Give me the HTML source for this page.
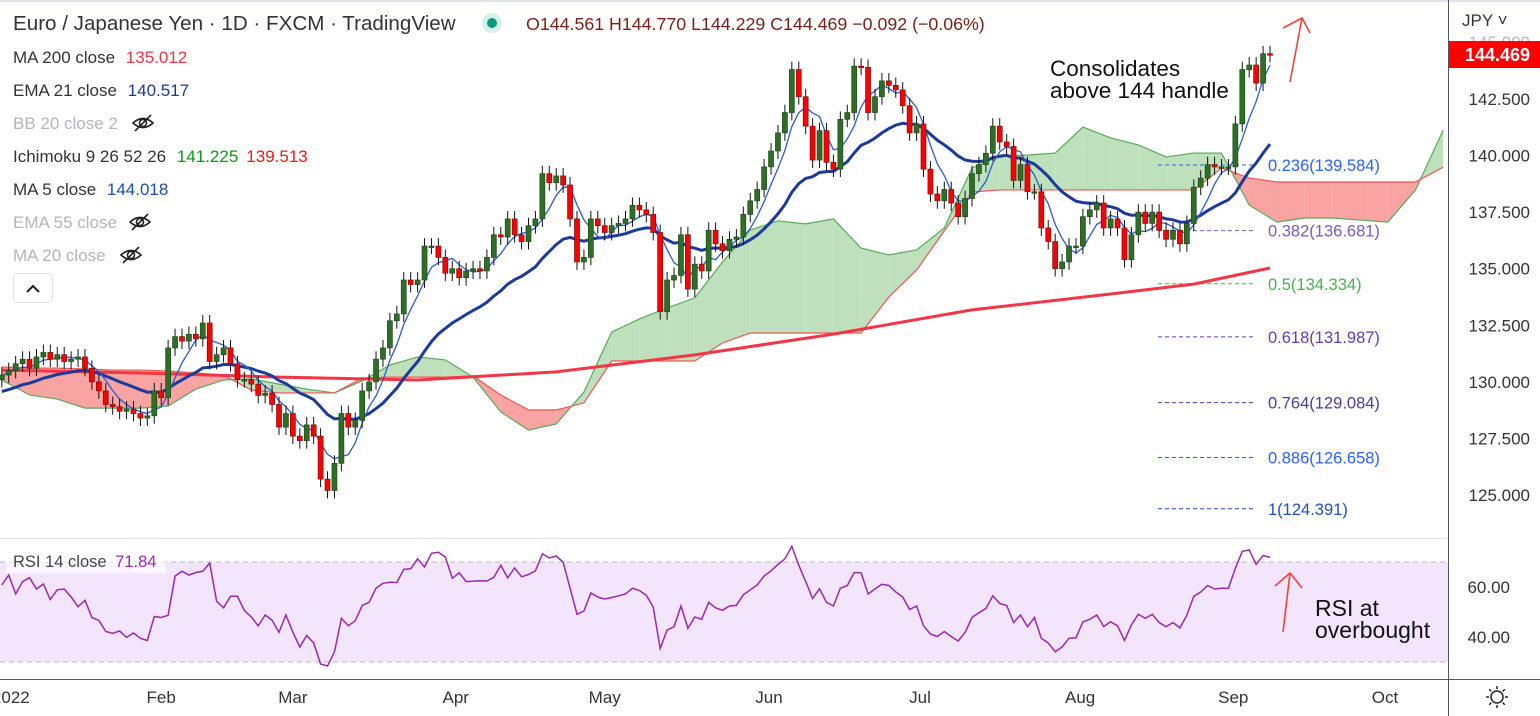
<!DOCTYPE html>
<html><head><meta charset="utf-8"><style>
html,body{margin:0;padding:0;background:#fff;overflow:hidden}
svg{display:block;font-family:"Liberation Sans",sans-serif}
</style></head><body>
<svg id="chart" width="1540" height="716" viewBox="0 0 1540 716" xmlns="http://www.w3.org/2000/svg">
<defs>
<clipPath id="mainClip"><rect x="0" y="0" width="1448" height="538"/></clipPath>
<clipPath id="rsiClip"><rect x="0" y="539" width="1448" height="140"/></clipPath>
</defs>
<rect x="0" y="0" width="1540" height="716" fill="#fff"/>
<line x1="0" y1="1" x2="1540" y2="1" stroke="#e0e3eb" stroke-width="2"/>
<g id="cloud" clip-path="url(#mainClip)"></g>
<g id="fib"></g>
<g id="lines" clip-path="url(#mainClip)"></g>
<g id="candles" clip-path="url(#mainClip)"></g>
<g id="rsi"></g>
<line x1="0" y1="538.5" x2="1448" y2="538.5" stroke="#e0e3eb" stroke-width="1"/>
<line x1="0" y1="679.5" x2="1540" y2="679.5" stroke="#555" stroke-width="1"/>
<line x1="1448.5" y1="0" x2="1448.5" y2="716" stroke="#555" stroke-width="1"/>
<g id="axes"></g>

<g font-size="17">
<text x="13" y="30" font-size="20.6" fill="#333">Euro / Japanese Yen · 1D · FXCM · TradingView</text>
<circle cx="492" cy="23" r="10" fill="#d6f0ea"/>
<circle cx="492" cy="23" r="5" fill="#089981"/>
<text x="526" y="30" font-size="17.8" fill="#7a1f17">O144.561 H144.770 L144.229 C144.469 −0.092 (−0.06%)</text>
<text x="13" y="63" fill="#333">MA 200 close <tspan fill="#f23645" dx="6">135.012</tspan></text>
<text x="13" y="96" fill="#333">EMA 21 close <tspan fill="#1c3a9a" dx="6">140.517</tspan></text>
<text x="13" y="129" fill="#b2b5be">BB 20 close 2</text>
<g transform="translate(143,123)" fill="none" stroke="#222" stroke-width="1.6"><path d="M-10 0 Q0 -9 10 0 Q0 9 -10 0Z"/><circle r="3.5"/><line x1="-8" y1="8" x2="8" y2="-8"/></g>
<text x="13" y="162" fill="#333">Ichimoku 9 26 52 26 <tspan fill="#089a12" dx="6">141.225</tspan><tspan fill="#f21818" dx="8">139.513</tspan></text>
<text x="13" y="195" fill="#333">MA 5 close <tspan fill="#1c4fb0" dx="6">144.018</tspan></text>
<text x="13" y="228" fill="#b2b5be">EMA 55 close</text>
<g transform="translate(140,222)" fill="none" stroke="#222" stroke-width="1.6"><path d="M-10 0 Q0 -9 10 0 Q0 9 -10 0Z"/><circle r="3.5"/><line x1="-8" y1="8" x2="8" y2="-8"/></g>
<text x="13" y="261" fill="#b2b5be">MA 20 close</text>
<g transform="translate(131,255)" fill="none" stroke="#222" stroke-width="1.6"><path d="M-10 0 Q0 -9 10 0 Q0 9 -10 0Z"/><circle r="3.5"/><line x1="-8" y1="8" x2="8" y2="-8"/></g>
<rect x="13.5" y="273.5" width="39" height="29" rx="4" fill="#fff" stroke="#e0e3eb"/>
<path d="M27 292 L33 286 L39 292" fill="none" stroke="#222" stroke-width="2"/>
</g>

<g>
<text x="1050" y="76" font-size="22.5" fill="#111">Consolidates</text>
<text x="1050" y="98" font-size="22.5" fill="#111">above 144 handle</text>
<path d="M1290 82 L1302 18 M1283 28 L1302 18 L1310 33" fill="none" stroke="#f44336" stroke-width="1.6"/>
<text x="1315" y="616" font-size="23" fill="#111">RSI at</text>
<text x="1315" y="638" font-size="23" fill="#111">overbought</text>
<path d="M1283 632 L1290 573 M1275 586 L1290 573 L1302 588" fill="none" stroke="#f44336" stroke-width="1.6"/>
</g>
</svg>
<script>
const closes=[130.3,130.5,130.8,131.0,130.6,131.1,131.3,131.0,131.2,130.9,131.0,131.1,130.6,130.0,129.6,129.0,128.9,128.7,128.8,128.6,128.4,128.5,129.6,129.3,131.5,132.0,131.8,132.1,131.9,132.6,130.9,131.2,131.5,130.8,130.1,130.1,129.9,129.4,129.5,129.0,128.0,128.6,127.6,127.4,128.1,127.6,125.7,125.2,126.4,128.6,128.0,128.3,129.6,130.0,131.0,131.5,132.7,133.0,134.5,134.3,134.5,136.0,136.0,135.5,134.8,135.0,134.6,134.9,135.0,134.9,135.5,136.5,136.4,137.2,136.5,136.2,136.9,137.2,139.2,138.8,139.1,138.7,
137.2,135.3,135.5,137.2,136.9,136.6,136.9,137.0,137.2,137.8,137.6,137.4,136.6,133.1,134.5,134.7,136.5,134.1,135.2,134.9,136.7,136.1,135.8,136.3,136.4,137.4,138.0,138.5,139.5,140.2,141.0,141.9,143.8,142.6,141.3,139.8,141.1,139.7,139.4,141.6,141.9,143.95,
143.9,141.9,142.6,143.3,143.1,142.9,142.2,141.0,141.4,139.4,138.3,138.0,138.5,137.9,137.3,138.1,139.2,139.6,140.1,141.3,140.6,140.4,138.9,139.6,138.4,138.4,136.8,136.2,135.0,135.3,136.0,136.0,137.3,137.6,137.9,136.8,137.2,136.8,135.4,136.5,137.5,137.0,137.5,136.7,136.3,136.7,136.1,137.0,138.6,139.0,139.6,139.5,139.5,139.5,141.4,143.8,144.0,143.2,144.5,144.469];
const rsiVals=[60.8,64.8,57.2,62.2,63.7,59.2,61.2,55,58.9,59.2,56,52.1,54.7,47.8,46.7,42.2,41.5,42.4,39.9,41.6,39.5,38.6,48.2,47.8,48.7,64.4,66.3,64.8,65.8,66.3,69.6,54.3,51.7,56.3,56.3,50.6,48,44.5,48.8,46.7,41.9,48.8,41.9,36,40.6,37.6,29.2,28.4,34.1,47.5,44.5,46.5,52.6,53.9,59.5,61.5,61.9,61.8,67.1,67.3,71.3,68,73.5,73.9,72,63.5,65.7,62.2,62.3,62.5,62.4,63.9,68.7,63.7,67.6,64.1,65,66.5,73.3,71.6,72.4,70,59.5,49.1,50.4,57.6,56,55.2,55.8,56.5,57.2,59.5,58.6,56.7,
52,35.4,42.8,44.1,52.4,43.5,48,47.1,53.9,51.7,50.7,52.4,52.7,56.9,58.9,60.8,64.4,66.5,69,71.3,76.3,68.7,62.2,55.4,59.3,53.9,52.4,59.5,60.6,65.8,65.7,57.2,59.2,61.1,60.6,58,56,51,52.4,44.5,41.2,40.2,42.2,40.2,38.4,41.9,47.8,49.7,51.4,56.5,53.4,52.6,45.8,48.8,44.1,47.8,39.5,37.6,34.1,36,39.5,39.7,46.1,47.1,48.8,44.2,46.1,44.5,38.6,44.9,49.1,47.5,49.1,45.8,44.1,45.8,43.6,48.7,56.3,58,60.6,59.2,59.5,59.5,67.4,74.3,74.8,69.1,72.6,71.84];
const spanA=[130.08,129.42,129.24,128.84,128.84,128.84,128.93,129.68,130.08,130.13,129.90,129.68,129.51,130.04,130.74,131.10,130.97,130.21,128.67,127.87,128.14,129.55,132.20,132.78,133.26,133.71,135.30,136.71,137.11,136.98,137.20,135.91,135.61,135.83,136.80,139.45,139.98,140.02,140.11,141.26,140.78,140.47,139.94,140.11,140.11,137.81,137.06,137.24,137.24,137.15,137.06,138.48,141.13];
const spanB=[130.66,130.61,130.61,130.57,130.52,130.52,130.48,130.39,130.30,129.64,129.51,129.51,129.51,130.17,130.21,130.21,130.21,130.26,129.42,128.76,128.76,129.07,130.92,130.92,130.92,130.92,131.72,132.16,132.16,132.16,132.16,132.16,133.75,134.94,136.67,138.39,138.48,138.48,138.48,138.48,138.48,138.48,138.48,138.48,139.45,139.01,138.83,138.83,138.83,138.83,138.83,138.83,139.49];
const cloudStep=4;
const ma200Bars=[0,20,40,60,80,100,120,140,160,172,183];
const ma200Vals=[130.52,130.39,130.21,130.08,130.44,131.19,132.11,133.18,133.88,134.32,135.03];
const priceTicks=[125,127.5,130,132.5,135,137.5,140,142.5];
const rsiTicks=[40,60];
const monthLabels=["2022","Feb","Mar","Apr","May","Jun","Jul","Aug","Sep","Oct"];
const monthBars=[1.3,23,42,65.5,87,110.7,132.5,155.6,177.7,199.6];
const fibRatios=["0.236","0.382","0.5","0.618","0.764","0.886","1"];
const fibPrices=[139.584,136.681,134.334,131.987,129.084,126.658,124.391];
const fibColors=["#2962ff","#7e57c2","#4caf50","#673ab7","#4b3a9f","#2962ff","#1e4fc4"];

const NS="http://www.w3.org/2000/svg";
const N=closes.length;
function xB(i){return 1270-(N-1-i)*6.93;}
function yP(p){return 495-(p-125)*22.63;}
function yR(r){return 662-(r-30)*2.5;}
function mk(tag,attrs,parent){const e=document.createElementNS(NS,tag);for(const k in attrs)e.setAttribute(k,attrs[k]);parent.appendChild(e);return e;}

const cg=document.getElementById('cloud');
for(let j=0;j<spanA.length-1;j++){
  const x1=xB(j*cloudStep),x2=xB((j+1)*cloudStep);
  const a1=spanA[j],a2=spanA[j+1],b1=spanB[j],b2=spanB[j+1];
  const d1=a1-b1,d2=a2-b2;
  const segs=[];
  if(d1*d2<0){const t=d1/(d1-d2);const xm=x1+(x2-x1)*t;const pm=a1+(a2-a1)*t;
    segs.push([x1,a1,b1,xm,pm,pm,d1]);segs.push([xm,pm,pm,x2,a2,b2,d2]);}
  else segs.push([x1,a1,b1,x2,a2,b2,d1+d2]);
  segs.forEach(s=>{
    const poly=mk('polygon',{points:`${s[0]},${yP(s[1])} ${s[3]},${yP(s[4])} ${s[3]},${yP(s[5])} ${s[0]},${yP(s[2])}`,fill:s[6]>=0?'#bfe0bd':'#f9a3a3'},cg);
    
    
  });
}
let pa='',pb='';
spanA.forEach((v,j)=>{pa+=(j?'L':'M')+xB(j*cloudStep)+' '+yP(v);});
spanB.forEach((v,j)=>{pb+=(j?'L':'M')+xB(j*cloudStep)+' '+yP(v);});
const la=mk('path',{d:pa,fill:'none',stroke:'#5aa95a','stroke-width':1.2},cg);


const lb=mk('path',{d:pb,fill:'none',stroke:'#f25555','stroke-width':1.2},cg);



const fg=document.getElementById('fib');
fibPrices.forEach((p,k)=>{
  const y=yP(p);
  const l=mk('line',{x1:1158,y1:y,x2:1254,y2:y,stroke:fibColors[k],'stroke-width':1,'stroke-dasharray':'4 3'},fg);
  
  
  const t=mk('text',{x:1268,y:y+6,'font-size':16.5,fill:fibColors[k]},fg);
  t.textContent=fibRatios[k]+'('+p.toFixed(3)+')';
  
  
});

const lg=document.getElementById('lines');
let d200='';
ma200Bars.forEach((b,k)=>{d200+=(k?'L':'M')+xB(b)+' '+yP(ma200Vals[k]);});
const m200=mk('path',{d:d200,fill:'none',stroke:'#f23645','stroke-width':3},lg);


let ema=129.5,dE='',d5='';
const k21=2/22;
closes.forEach((c,i)=>{
  ema=c*k21+ema*(1-k21);
  dE+=(i?'L':'M')+xB(i).toFixed(1)+' '+yP(ema).toFixed(1);
  const s=closes.slice(Math.max(0,i-4),i+1);const m=s.reduce((a,b)=>a+b,0)/s.length;
  d5+=(i?'L':'M')+xB(i).toFixed(1)+' '+yP(m).toFixed(1);
});
const e21=mk('path',{d:dE,fill:'none',stroke:'#1c3a9a','stroke-width':3},lg);


const m5=mk('path',{d:d5,fill:'none',stroke:'#2d5bd0','stroke-width':1.3},lg);



const kg=document.getElementById('candles');
closes.forEach((c,i)=>{
  const o=i?closes[i-1]:130.1;
  const up=c>=o;
  const hi=Math.max(o,c)+0.35,lo=Math.min(o,c)-0.35;
  const x=xB(i);
  const w=mk('line',{x1:x,y1:yP(hi),x2:x,y2:yP(lo),stroke:'#111','stroke-width':1},kg);
  
  
  const top=yP(Math.max(o,c)),h=Math.max(1.5,yP(Math.min(o,c))-top);
  const r=mk('rect',{x:x-2.5,y:top,width:5,height:h,fill:up?'#2e6e26':'#ff0000',stroke:up?'#1f4d19':'#7a1010','stroke-width':0.7},kg);
  
  
});

const rg=document.getElementById('rsi');
const band=mk('rect',{x:0,y:yR(70),width:1448,height:yR(30)-yR(70),fill:'#f3e5fc'},rg);


[70,30].forEach(v=>{
  const l=mk('line',{x1:0,y1:yR(v),x2:1448,y2:yR(v),stroke:'#b8b8c2','stroke-width':1,'stroke-dasharray':'5 4'},rg);
  
  
});
let dr='';
rsiVals.forEach((v,i)=>{dr+=(i?'L':'M')+xB(i).toFixed(1)+' '+yR(v).toFixed(1);});
const rl=mk('path',{d:dr,fill:'none',stroke:'#9c27b0','stroke-width':1.5,'clip-path':'url(#rsiClip)'},rg);


const rb=mk('rect',{x:6,y:549,width:160,height:24,fill:'rgba(255,255,255,0.6)'},rg);


const rt=mk('text',{x:13,y:567,'font-size':16.5,fill:'#444'},rg);
rt.innerHTML='RSI 14 close <tspan fill="#9c27b0" dx="4">71.84</tspan>';



const ag=document.getElementById('axes');
priceTicks.forEach(p=>{
  const t=mk('text',{x:1530,y:yP(p)+6,'font-size':17,fill:'#333','text-anchor':'end'},ag);
  t.textContent=p.toFixed(3);
  
  
});
const ht=mk('text',{x:1530,y:48,'font-size':17,fill:'#bbb','text-anchor':'end'},ag);
ht.textContent='145.000';


const tag=mk('rect',{x:1449,y:41,width:91,height:27,fill:'#ff0000'},ag);


const tt=mk('text',{x:1530,y:61,'font-size':18,'font-weight':'bold',fill:'#fff','text-anchor':'end'},ag);
tt.textContent=closes[N-1].toFixed(3);


const cur=mk('text',{x:1462,y:26,'font-size':17,fill:'#333'},ag);
cur.textContent='JPY ˅';


rsiTicks.forEach(v=>{
  const t=mk('text',{x:1510,y:yR(v)+6,'font-size':17,fill:'#333','text-anchor':'end'},ag);
  t.textContent=v.toFixed(2);
  
  
});
monthLabels.forEach((m,k)=>{
  const t=mk('text',{x:xB(monthBars[k]),y:703,'font-size':17,fill:'#333','text-anchor':'middle'},ag);
  t.textContent=m;
  
  
});
const gear=mk('g',{transform:'translate(1497,697)',fill:'none',stroke:'#222','stroke-width':1.5},ag);


mk('circle',{r:6},gear);
for(let a=0;a<8;a++){const an=a*Math.PI/4;mk('line',{x1:8*Math.cos(an),y1:8*Math.sin(an),x2:11*Math.cos(an),y2:11*Math.sin(an)},gear);}
</script>
</body></html>
